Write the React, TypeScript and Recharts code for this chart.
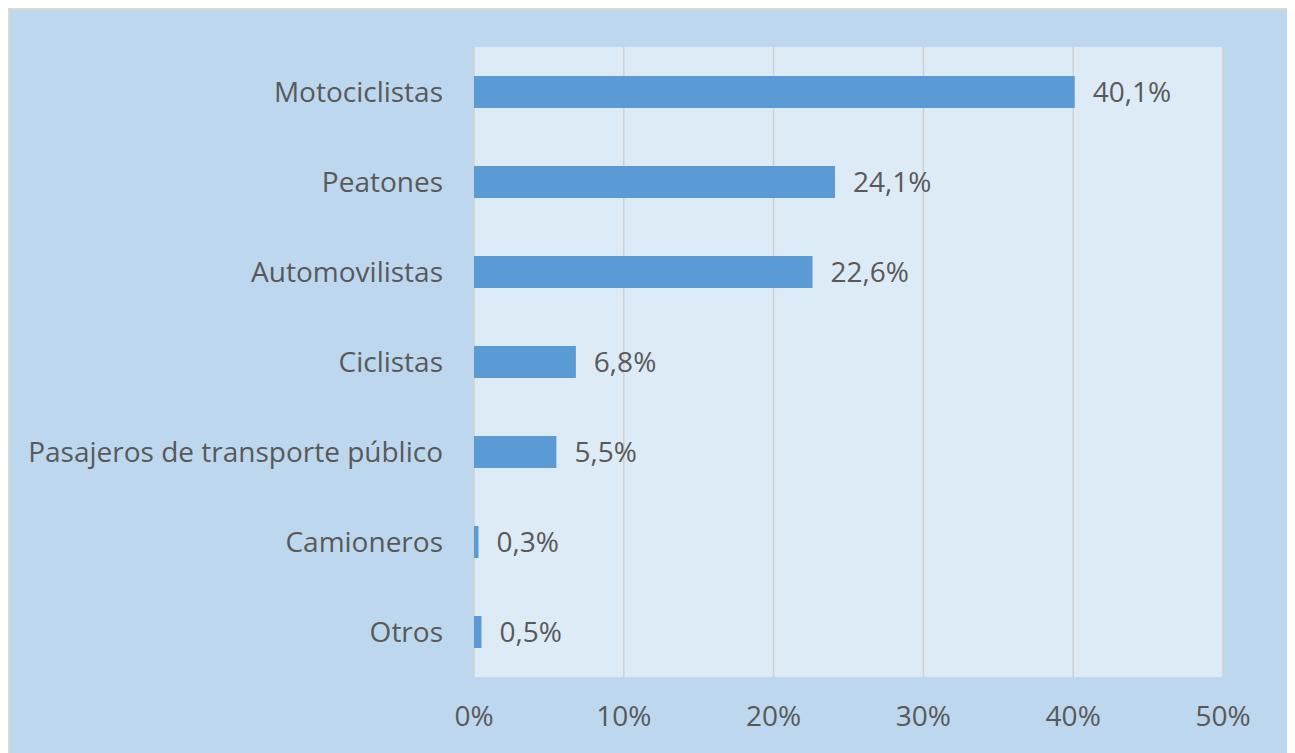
import React from "react";
import { BarChart, Bar, XAxis, YAxis, CartesianGrid, LabelList } from "recharts";

const categories = [
  "Motociclistas",
  "Peatones",
  "Automovilistas",
  "Ciclistas",
  "Pasajeros de transporte público",
  "Camioneros",
  "Otros",
];
const values = [40.1, 24.1, 22.6, 6.8, 5.5, 0.3, 0.5];
const xTicks = [0, 10, 20, 30, 40, 50];

const data = categories.map((name, i) => ({ name, value: values[i] }));

const FONT = "'Open Sans', 'Noto Sans', sans-serif";
const TEXT = "#595959";
const FS = 28;

export default function App() {
  return (
    <div
      style={{
        margin: "-1px 0 0 -1px",
        border: "3px solid #D9D9D9",
        width: 1277,
        height: 745,
        background: "#BDD7EE",
        fontFamily: FONT,
      }}
    >
      <BarChart
        width={1277}
        height={745}
        data={data}
        layout="vertical"
        margin={{ top: 37, right: 64, bottom: 0, left: 0 }}
        barCategoryGap={0}
      >
        <CartesianGrid
          horizontal={false}
          vertical={true}
          stroke="#D0D0D0"
          strokeWidth={1.5}
          fill="#DDEBF7"
          fillOpacity={1}
        />
        <XAxis
          type="number"
          domain={[0, 50]}
          ticks={xTicks}
          height={78}
          tickFormatter={(v: number) => `${v}%`}
          axisLine={false}
          tickLine={false}
          tickSize={0}
          tickMargin={29}
          tick={{ fill: TEXT, fontSize: FS, fontFamily: FONT }}
          interval={0}
        />
        <YAxis
          type="category"
          dataKey="name"
          width={464}
          axisLine={false}
          tickLine={false}
          tickSize={0}
          tickMargin={31}
          tick={{ fill: TEXT, fontSize: FS, fontFamily: FONT }}
          interval={0}
        />
        <Bar dataKey="value" fill="#5B9BD5" barSize={32} isAnimationActive={false}>
          <LabelList
            dataKey="value"
            position="right"
            offset={18}
            formatter={(v: number) => `${String(v).replace(".", ",")}%`}
            style={{ fill: TEXT, fontSize: FS, fontFamily: FONT }}
          />
        </Bar>
      </BarChart>
    </div>
  );
}
